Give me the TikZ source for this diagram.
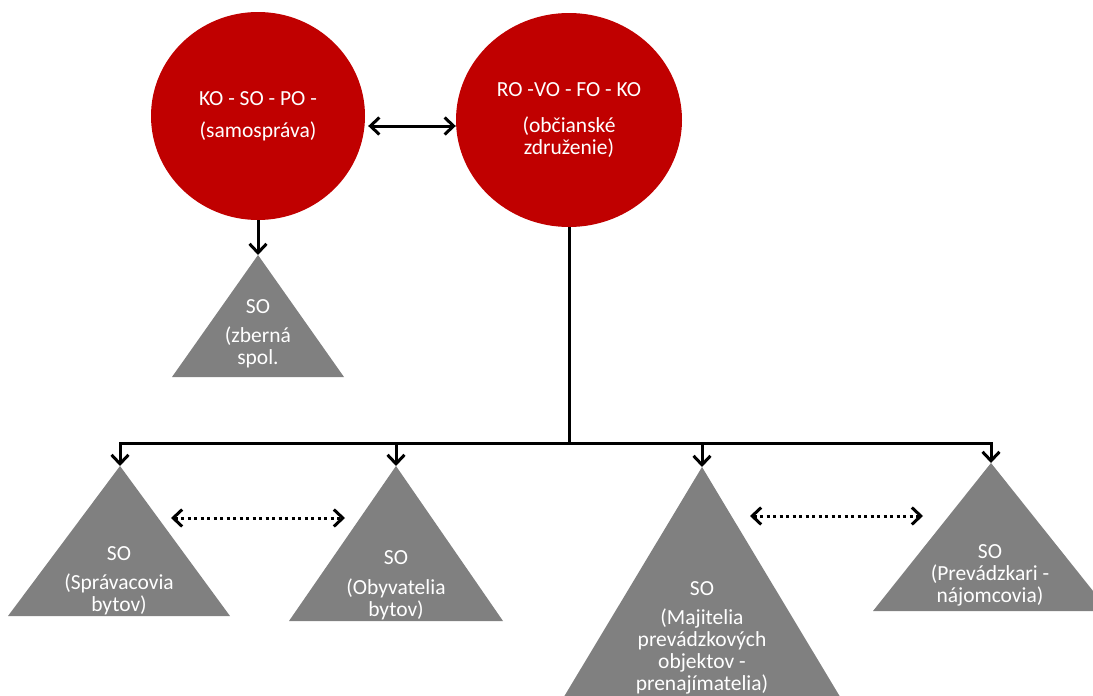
\documentclass[tikz,border=0pt]{standalone}
\usepackage{fontspec}
\setmainfont{Carlito}
\usetikzlibrary{arrows.meta,shapes.geometric}
\definecolor{cred}{HTML}{C00000}
\definecolor{cgray}{HTML}{808080}
\tikzset{
  circ/.style={ellipse, fill=cred, draw=none, inner sep=0, align=center, text=white,
    font=\fontsize{21.5}{22}\selectfont},
  tri/.style={fill=cgray, draw=none},
  lbl/.style={align=center, text=white, inner sep=0, font=\fontsize{21.5}{22}\selectfont},
  tip/.style={line width=3pt, draw=black},
  conn/.style={tip, -{Straight Barb[length=9pt,width=17pt]}},
  biconn/.style={tip, {Straight Barb[length=9pt,width=17pt]}-{Straight Barb[length=9pt,width=17pt]}},
  dotconn/.style={biconn, dash pattern=on 3pt off 3.5pt},
  plain/.style={tip}
}
\begin{document}
\begin{tikzpicture}[x=1pt,y=-1pt]
\useasboundingbox (0,0) rectangle (1093,696);
\clip (0,0) rectangle (1093,696);

% circles
\node[circ, minimum width=214pt, minimum height=208pt] (c1) at (258,116)
  {KO - SO - PO -\\[10pt](samospráva)};
\node[circ, minimum width=226pt, minimum height=214pt] (c2) at (569,120)
  {RO -VO - FO - KO\\[14pt](občianské\\združenie)};

% triangles
\coordinate (s0) at (258,255);
\fill[tri] (s0) -- (344,377) -- (172,377) -- cycle;
\node[lbl] (s0t) at (258,334) {SO\\[7pt](zberná\\spol.};

\coordinate (t1) at (120,466);
\fill[tri] (t1) -- (230,616) -- (8,616) -- cycle;
\node[lbl] (t1t) at (119,581) {SO\\[7pt](Správacovia\\bytov)};

\coordinate (t2) at (396,466);
\fill[tri] (t2) -- (503,621) -- (289,621) -- cycle;
\node[lbl] (t2t) at (396,585) {SO\\[8pt](Obyvatelia\\bytov)};

\coordinate (t3) at (702,467);
\fill[tri] (t3) -- (854,720) -- (550,720) -- cycle;
\node[lbl] (t3t) at (702,638) {SO\\[7pt](Majitelia\\prevádzkových\\objektov -\\prenajímatelia)};

\coordinate (t4) at (991,463);
\fill[tri] (t4) -- (1109,611) -- (873,611) -- cycle;
\node[lbl] (t4t) at (990,575) {SO\\(Prevádzkari -\\nájomcovia)};

% connectors
\path (c1.east) ++(3,10) coordinate (a1);
\draw[biconn] (a1) -- (a1 -| c2.west);
\draw[conn] (c1.south) -- (s0);

\coordinate (bus) at (569,443);
\draw[plain] (c2.south) -- (bus);
\draw[conn] (bus) -| (t1);
\draw[conn] (bus) -| (t2);
\draw[conn] (bus) -| (t3);
\draw[conn] (bus) -| (t4);

\coordinate (d1a) at (171,518);
\coordinate (d1b) at (345,518);
\draw[dotconn] (d1a) -- (d1b);
\coordinate (d2a) at (750,516);
\coordinate (d2b) at (923,516);
\draw[dotconn] (d2a) -- (d2b);
\end{tikzpicture}
\end{document}
